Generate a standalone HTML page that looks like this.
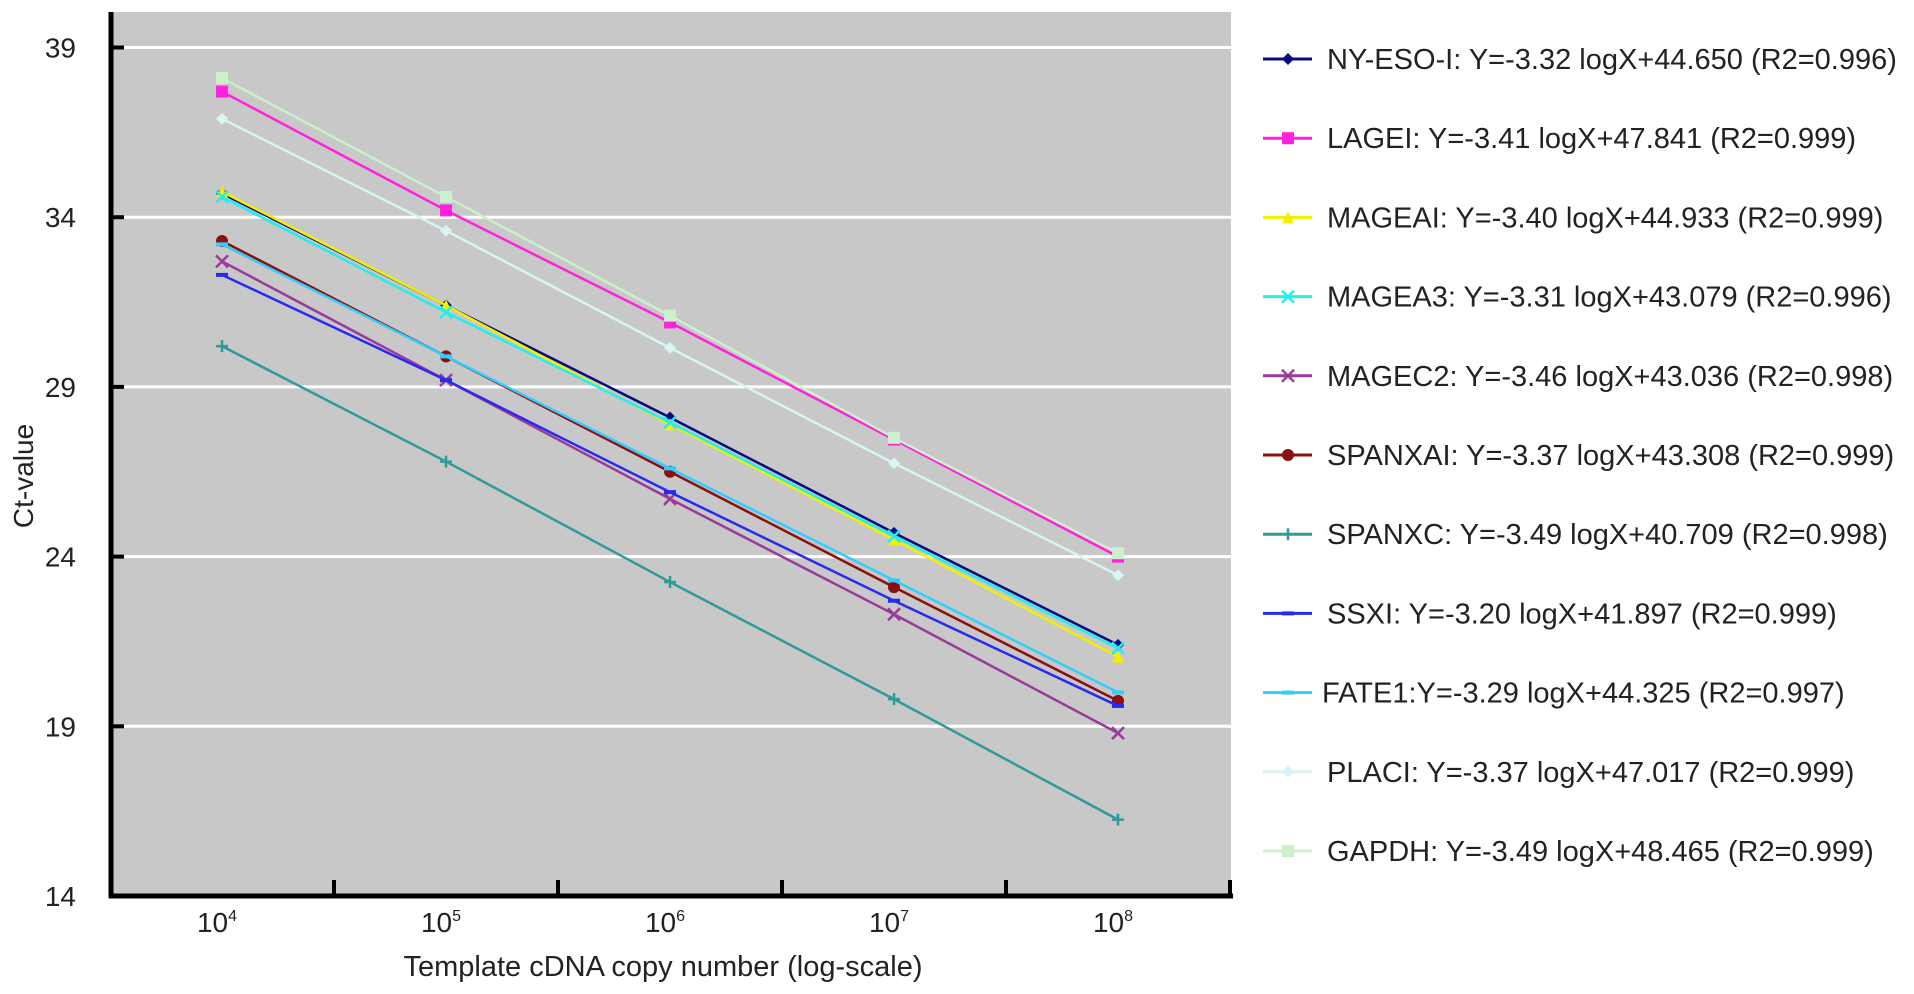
<!DOCTYPE html>
<html><head><meta charset="utf-8"><style>
html,body{margin:0;padding:0;background:#fff;}
svg{display:block;font-family:"Liberation Sans",Arial,sans-serif;}
</style></head><body>
<svg id="chart" width="1914" height="994" viewBox="0 0 1914 994">
<rect x="111" y="12" width="1120" height="884" fill="#c8c8c8"/>
<g id="grid"></g>
<g id="series"></g>
<g id="axes"></g>
<g id="legend"></g>
<text x="663" y="976" font-size="29" text-anchor="middle" fill="#222">Template cDNA copy number (log-scale)</text>
<text transform="translate(33,476) rotate(-90)" font-size="28" text-anchor="middle" fill="#222">Ct-value</text>
</svg>
<script>
const xExponents = [4,5,6,7,8];
const yTicks = [14,19,24,29,34,39];
const seriesNames = ["NY-ESO-I","LAGEI","MAGEAI","MAGEA3","MAGEC2","SPANXAI","SPANXC","SSXI","FATE1","PLACI","GAPDH"];
const legendLabels = [
"NY-ESO-I: Y=-3.32 logX+44.650 (R2=0.996)",
"LAGEI: Y=-3.41 logX+47.841 (R2=0.999)",
"MAGEAI: Y=-3.40 logX+44.933 (R2=0.999)",
"MAGEA3: Y=-3.31 logX+43.079 (R2=0.996)",
"MAGEC2: Y=-3.46 logX+43.036 (R2=0.998)",
"SPANXAI: Y=-3.37 logX+43.308 (R2=0.999)",
"SPANXC: Y=-3.49 logX+40.709 (R2=0.998)",
"SSXI: Y=-3.20 logX+41.897 (R2=0.999)",
"FATE1:Y=-3.29 logX+44.325 (R2=0.997)",
"PLACI: Y=-3.37 logX+47.017 (R2=0.999)",
"GAPDH: Y=-3.49 logX+48.465 (R2=0.999)"];
const nyEso = [34.7,31.4,28.1,24.7,21.4];
const lage = [37.7,34.2,30.9,27.45,24.0];
const mageA1 = [34.75,31.4,27.9,24.5,21.05];
const mageA3 = [34.6,31.2,27.95,24.6,21.3];
const mageC2 = [32.7,29.2,25.7,22.3,18.8];
const spanxA1 = [33.3,29.9,26.5,23.1,19.75];
const spanxC = [30.2,26.8,23.25,19.8,16.25];
const ssx1 = [32.3,29.2,25.9,22.7,19.6];
const fate1 = [33.2,29.9,26.6,23.3,20.0];
const plac1 = [36.9,33.6,30.15,26.75,23.45];
const gapdh = [38.1,34.6,31.1,27.5,24.1];
const seriesValues = [nyEso,lage,mageA1,mageA3,mageC2,spanxA1,spanxC,ssx1,fate1,plac1,gapdh];
const colors = ["#0a0a80","#ff22dd","#f0f000","#22eeee","#9a3a9a","#8a1010","#2e9a9a","#2a2aee","#33ccff","#d8f4f4","#ccf0cc"];
const markers = ["diamond","square","triangle","x","x","circle","plus","dash","dash","diamond","square"];

const NS="http://www.w3.org/2000/svg";
const X0=222, XSTEP=224, Y0=896, YPU=169.7/5;
const xs = e => X0 + (e-4)*XSTEP;
const ys = v => Y0 - (v-14)*YPU;
function mk(tag, attrs, parent){const el=document.createElementNS(NS,tag);for(const k in attrs)el.setAttribute(k,attrs[k]);parent.appendChild(el);return el;}
const grid=document.getElementById('grid'), axes=document.getElementById('axes'), ser=document.getElementById('series'), leg=document.getElementById('legend');

yTicks.forEach(t=>{
  if(t>14){const g=mk('line',{x1:111,x2:1231,y1:ys(t),y2:ys(t),stroke:'#fff','stroke-width':3},grid);
  
  }
  const tk=mk('line',{x1:111,x2:124,y1:ys(t),y2:ys(t),stroke:'#000','stroke-width':4},axes);
  
  
  const lb=mk('text',{x:76,y:ys(t)+10,'font-size':28,'text-anchor':'end',fill:'#222'},axes);
  lb.textContent=t;
  
  
});
const ya=mk('line',{x1:111,x2:111,y1:12,y2:898,stroke:'#000','stroke-width':5},axes);


const xa=mk('line',{x1:109,x2:1233,y1:896,y2:896,stroke:'#000','stroke-width':5},axes);


for(let i=0;i<5;i++){
  const mx = xs(4.5+i);
  const tk=mk('line',{x1:mx,x2:mx,y1:880,y2:896,stroke:'#000','stroke-width':4},axes);
  
  
}
xExponents.forEach(e=>{
  const t=mk('text',{x:xs(e)-5,y:932,'font-size':28,'text-anchor':'middle',fill:'#222'},axes);
  t.textContent='10';
  const s=mk('tspan',{'font-size':16,dy:-11},t);
  s.textContent=e;
  
  
});

function marker(type,x,y,c,parent,s){
  s=s||6;
  let el;
  if(type==='diamond') el=mk('polygon',{points:`${x},${y-s} ${x+s},${y} ${x},${y+s} ${x-s},${y}`,fill:c},parent);
  else if(type==='square') el=mk('rect',{x:x-s,y:y-s,width:2*s,height:2*s,fill:c},parent);
  else if(type==='triangle') el=mk('polygon',{points:`${x},${y-s} ${x+s},${y+s} ${x-s},${y+s}`,fill:c},parent);
  else if(type==='circle') el=mk('circle',{cx:x,cy:y,r:s,fill:c},parent);
  else if(type==='x') el=mk('path',{d:`M${x-s} ${y-s}L${x+s} ${y+s}M${x+s} ${y-s}L${x-s} ${y+s}`,stroke:c,'stroke-width':2.5},parent);
  else if(type==='plus') el=mk('path',{d:`M${x-s} ${y}L${x+s} ${y}M${x} ${y-s}L${x} ${y+s}`,stroke:c,'stroke-width':2.5},parent);
  else el=mk('rect',{x:x-s,y:y-2,width:2*s,height:4,fill:c},parent);
  return el;
}

seriesValues.forEach((vals,i)=>{
  const g=mk('g',{},ser);
  
  
  const pts=vals.map((v,j)=>xs(xExponents[j])+','+ys(v)).join(' ');
  const pl=mk('polyline',{points:pts,fill:'none',stroke:colors[i],'stroke-width':2.5},g);
  
  
  vals.forEach((v,j)=>{
    const m=marker(markers[i],xs(xExponents[j]),ys(v),colors[i],g,6);
    
    
  });
  const ly=59+i*79.2;
  const lg=mk('g',{},leg);
  
  
  mk('line',{x1:1263,x2:1312,y1:ly,y2:ly,stroke:colors[i],'stroke-width':3},lg);
  marker(markers[i],1288,ly,colors[i],lg,6);
  const tx=mk('text',{x:(i===8?1322:1327),y:ly+10,'font-size':29,fill:'#222'},lg);
  tx.textContent=legendLabels[i];
});
</script>
</body></html>
